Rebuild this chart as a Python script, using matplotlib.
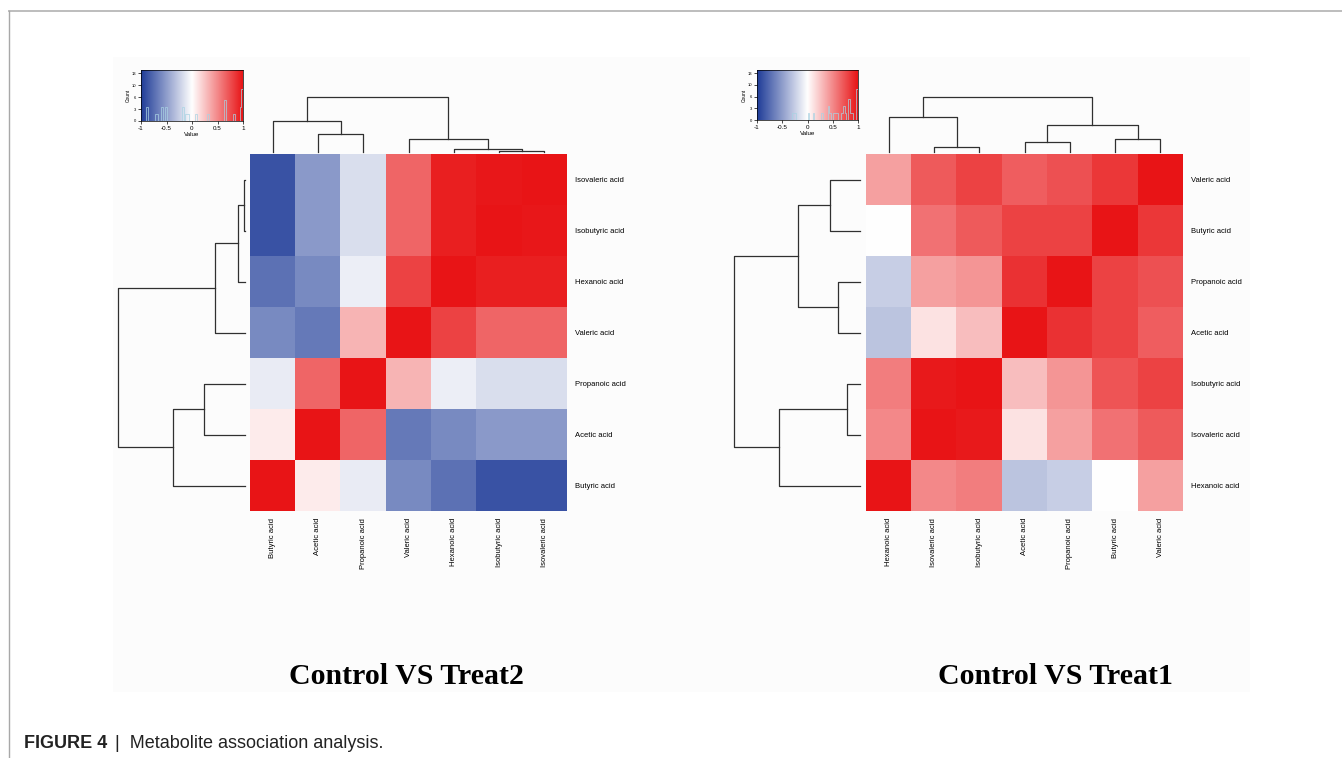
import numpy as np
import matplotlib
matplotlib.use("Agg")
import matplotlib.pyplot as plt
from matplotlib.colors import LinearSegmentedColormap
from matplotlib.lines import Line2D
from matplotlib.patches import Rectangle

plt.rcParams['font.family'] = ['Liberation Sans', 'DejaVu Sans']

# ---- data: Control VS Treat2 (left panel) ----
left_cols = ["Butyric acid", "Acetic acid", "Propanoic acid", "Valeric acid",
             "Hexanoic acid", "Isobutyric acid", "Isovaleric acid"]
left_rows = ["Isovaleric acid", "Isobutyric acid", "Hexanoic acid", "Valeric acid",
             "Propanoic acid", "Acetic acid", "Butyric acid"]
left_corr = [
    [-0.88, -0.52, -0.17, 0.65, 0.95, 0.98, 1.00],
    [-0.88, -0.52, -0.17, 0.65, 0.95, 1.00, 0.98],
    [-0.72, -0.60, -0.08, 0.80, 1.00, 0.95, 0.95],
    [-0.60, -0.68, 0.32, 1.00, 0.80, 0.65, 0.65],
    [-0.10, 0.65, 1.00, 0.32, -0.08, -0.17, -0.17],
    [0.08, 1.00, 0.65, -0.68, -0.60, -0.52, -0.52],
    [1.00, 0.08, -0.10, -0.60, -0.72, -0.88, -0.88],
]
# merges: (a, b, height); ints refer to earlier merges
left_tree = [
    ("Isobutyric acid", "Isovaleric acid", 0.01),
    ("Hexanoic acid", 0, 0.057),
    ("Valeric acid", 1, 0.24),
    ("Acetic acid", "Propanoic acid", 0.32),
    ("Butyric acid", 3, 0.565),
    (4, 2, 1.0),
]

# ---- data: Control VS Treat1 (right panel) ----
right_cols = ["Hexanoic acid", "Isovaleric acid", "Isobutyric acid", "Acetic acid",
              "Propanoic acid", "Butyric acid", "Valeric acid"]
right_rows = ["Valeric acid", "Butyric acid", "Propanoic acid", "Acetic acid",
              "Isobutyric acid", "Isovaleric acid", "Hexanoic acid"]
right_corr = [
    [0.40, 0.70, 0.80, 0.68, 0.74, 0.85, 1.00],
    [0.00, 0.60, 0.70, 0.80, 0.80, 1.00, 0.85],
    [-0.25, 0.40, 0.45, 0.87, 1.00, 0.80, 0.74],
    [-0.30, 0.12, 0.28, 1.00, 0.87, 0.80, 0.68],
    [0.55, 0.97, 1.00, 0.28, 0.45, 0.72, 0.80],
    [0.50, 1.00, 0.97, 0.12, 0.40, 0.60, 0.70],
    [1.00, 0.50, 0.55, -0.30, -0.25, 0.00, 0.40],
]
right_tree = [
    ("Isovaleric acid", "Isobutyric acid", 0.10),
    ("Hexanoic acid", 0, 0.645),
    ("Acetic acid", "Propanoic acid", 0.175),
    ("Butyric acid", "Valeric acid", 0.235),
    (2, 3, 0.495),
    (1, 4, 1.0),
]

titles = ["Control VS Treat2", "Control VS Treat1"]
key_ticks = [-1, -0.5, 0, 0.5, 1]
key_ticklabels = ["-1", "-0.5", "0", "0.5", "1"]

cmap = LinearSegmentedColormap.from_list("bwr2", ["#1f3c98", "#ffffff", "#e81416"])

W, H = 1342, 758
fig = plt.figure(figsize=(W / 100, H / 100), dpi=100)


def px_axes(x0, y0, x1, y1):
    return fig.add_axes([x0 / W, 1 - y1 / H, (x1 - x0) / W, (y1 - y0) / H])


def draw_dendro(ax, tree, order, side):
    pos = {name: i + 0.5 for i, name in enumerate(order)}
    hgt = {name: 0.0 for name in order}
    for k, (a, b, h) in enumerate(tree):
        pa, pb = pos[a], pos[b]
        ha, hb = hgt[a], hgt[b]
        xs = [pa, pa, pb, pb]
        ys = [ha, h, h, hb]
        if side == "top":
            ax.plot(xs, ys, color="#303030", lw=0.9, clip_on=False)
        else:
            ax.plot(ys, xs, color="#303030", lw=0.9, clip_on=False)
        pos[k] = (pa + pb) / 2
        hgt[k] = h
    n = len(order)
    if side == "top":
        ax.set_xlim(0, n)
        ax.set_ylim(0, 1)
    else:
        ax.set_ylim(n, 0)
        ax.set_xlim(1, 0)
    ax.axis("off")


def draw_panel(corr, rows, cols, tree, hm, rd, cd, key, title, title_x):
    mat = np.array(corr)
    ax = px_axes(*hm)
    ax.imshow(mat, cmap=cmap, vmin=-1, vmax=1, aspect="auto",
              interpolation="nearest", extent=(0, len(cols), len(rows), 0))
    ax.set_xticks(np.arange(len(cols)) + 0.5)
    ax.set_xticklabels(cols, rotation=90, fontsize=5.5)
    ax.yaxis.tick_right()
    ax.set_yticks(np.arange(len(rows)) + 0.5)
    ax.set_yticklabels(rows, fontsize=5.5)
    ax.tick_params(length=0, pad=5.5)
    ax.tick_params(axis="x", pad=5)
    for s in ax.spines.values():
        s.set_visible(False)

    axr = px_axes(*rd)
    draw_dendro(axr, tree, rows, "left")
    axc = px_axes(*cd)
    draw_dendro(axc, tree, cols, "top")

    # colour key with histogram
    axk = px_axes(*key)
    vals = mat.ravel()
    counts, edges = np.histogram(vals, bins=np.linspace(-1, 1, 61))
    ymax = counts.max() * 1.6
    grad = np.linspace(-1, 1, 256).reshape(1, -1)
    axk.imshow(grad, cmap=cmap, vmin=-1, vmax=1, aspect="auto",
               extent=(-1, 1, 0, ymax))
    axk.stairs(counts, edges, color="#a9d3e3", lw=0.5)
    axk.set_xlim(-1, 1)
    axk.set_ylim(0, ymax)
    axk.set_xticks(key_ticks)
    axk.set_xticklabels(key_ticklabels, fontsize=4.5)
    yt = np.linspace(0, counts.max() * 1.5, 5)
    axk.set_yticks(yt)
    axk.set_yticklabels(["%d" % v for v in yt], fontsize=3)
    axk.tick_params(length=2, width=0.5, pad=1.5)
    axk.set_xlabel("Value", fontsize=4.5, labelpad=1)
    axk.set_ylabel("Count", fontsize=3.5, labelpad=1)
    for s in axk.spines.values():
        s.set_linewidth(0.5)

    fig.text(title_x / W, 1 - 677 / H, title, ha="center", va="center",
             fontsize=21.5, fontweight="bold", family=["Liberation Serif", "DejaVu Serif"])


# faint background of the embedded picture
fig.patches.append(Rectangle((113 / W, 1 - 692 / H), (1250 - 113) / W, (692 - 57) / H,
                             transform=fig.transFigure, facecolor="#fcfcfc",
                             edgecolor="none", zorder=-1))

draw_panel(left_corr, left_rows, left_cols, left_tree,
           (250, 154, 567, 511), (118, 154, 245, 511), (250, 97, 567, 152),
           (141, 70, 243, 121), titles[0], 406)
draw_panel(right_corr, right_rows, right_cols, right_tree,
           (866, 154, 1183, 511), (734, 154, 860, 511), (866, 97, 1183, 152),
           (757, 70, 858, 120), titles[1], 1055)

# page frame lines
fig.add_artist(Line2D([9 / W, 1], [1 - 11 / H, 1 - 11 / H], transform=fig.transFigure,
                      color="#bdbdbd", lw=1.4))
fig.add_artist(Line2D([9 / W, 9 / W], [0, 1 - 11 / H], transform=fig.transFigure,
                      color="#a8a8a8", lw=1.0))

# caption
t1 = fig.text(24 / W, 1 - 744 / H, "FIGURE 4", fontsize=13, fontweight="bold",
              va="center", color="#222222")
fig.canvas.draw()
bb = t1.get_window_extent()
fig.text((bb.x1 + 8) / W, 1 - 744 / H, "|  Metabolite association analysis.",
         fontsize=13, va="center", color="#222222")

fig.savefig("out.png", dpi=100)
